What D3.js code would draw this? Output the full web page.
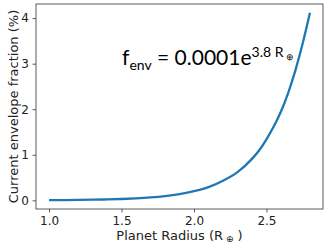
<!DOCTYPE html>
<html>
<head>
<meta charset="utf-8">
<script src="https://cdn.jsdelivr.net/npm/d3@7"></script>
<style>
  body { margin: 0; background: #fff; }
  svg { display: block; }
  .tick text { font-family: "DejaVu Sans", sans-serif; font-size: 12px; fill: #222; }
  .lbl { font-family: "DejaVu Sans", sans-serif; font-size: 13px; fill: #222; }
</style>
</head>
<body>
<svg width="332" height="248"></svg>
<script>
// planet radius (R_earth) and envelope fraction (%)
var radius = [1.0, 1.1, 1.2, 1.3, 1.4, 1.5, 1.6, 1.7, 1.8, 1.9, 2.0, 2.1, 2.2, 2.3, 2.4, 2.45, 2.5, 2.55, 2.6, 2.65, 2.7, 2.75, 2.8];
var fenv = [0.0045, 0.0065, 0.0096, 0.014, 0.020, 0.030, 0.044, 0.064, 0.093, 0.137, 0.20, 0.29, 0.43, 0.62, 0.91, 1.10, 1.34, 1.62, 1.95, 2.36, 2.86, 3.45, 4.12];
var xTicks = [1.0, 1.5, 2.0, 2.5];
var yTicks = [0, 1, 2, 3, 4];

var svg = d3.select("svg");
var box = {left: 36, right: 323, top: 4, bottom: 209};

var x = d3.scaleLinear().domain([0.91, 2.89]).range([box.left, box.right]);
var y = d3.scaleLinear().domain([-0.19, 4.31]).range([box.bottom, box.top]);

svg.append("g")
    .attr("transform", "translate(0," + box.bottom + ")")
    .call(d3.axisBottom(x).tickValues(xTicks).tickFormat(d3.format(".1f")).tickSize(3.5).tickPadding(3.5));
svg.append("g")
    .attr("transform", "translate(" + box.left + ",0)")
    .call(d3.axisLeft(y).tickValues(yTicks).tickFormat(d3.format("d")).tickSize(3.5).tickPadding(3.5));
svg.selectAll(".domain").remove();
svg.selectAll(".tick line").attr("stroke", "#333").attr("stroke-width", 0.8);

// frame
svg.append("rect")
    .attr("x", box.left).attr("y", box.top)
    .attr("width", box.right - box.left).attr("height", box.bottom - box.top)
    .attr("fill", "none").attr("stroke", "#333").attr("stroke-width", 0.8);

var pts = radius.map(function(r, i) { return [r, fenv[i]]; });
var line = d3.line()
    .x(function(d) { return x(d[0]); })
    .y(function(d) { return y(d[1]); })
    .curve(d3.curveMonotoneX);

svg.append("path")
    .datum(pts)
    .attr("d", line)
    .attr("fill", "none")
    .attr("stroke", "#1f77b4")
    .attr("stroke-width", 2.3);

// axis labels
var xl = svg.append("text").attr("class", "lbl")
    .attr("x", (box.left + box.right) / 2).attr("y", 240)
    .attr("text-anchor", "middle");
xl.append("tspan").text("Planet Radius (R");
xl.append("tspan").attr("font-size", "9px").attr("dy", 2).text(" \u2295");
xl.append("tspan").attr("dy", -2).text(" )");

svg.append("text").attr("class", "lbl")
    .attr("transform", "translate(18," + (box.top + box.bottom) / 2 + ") rotate(-90)")
    .attr("text-anchor", "middle")
    .text("Current envelope fraction (%)");

// formula annotation
var f = svg.append("text")
    .attr("x", 122).attr("y", 65)
    .attr("font-family", "Lato, sans-serif")
    .attr("font-size", "21px")
    .attr("fill", "#000");
f.append("tspan").text("f");
f.append("tspan").attr("font-size", "14px").attr("dy", 5).text("env");
f.append("tspan").attr("dy", -5).text(" = 0.0001e");
f.append("tspan").attr("font-size", "14px").attr("dy", -8).text("3.8 R");
f.append("tspan").attr("font-size", "9px").attr("dy", 3).text(" \u2295");
</script>
</body>
</html>
